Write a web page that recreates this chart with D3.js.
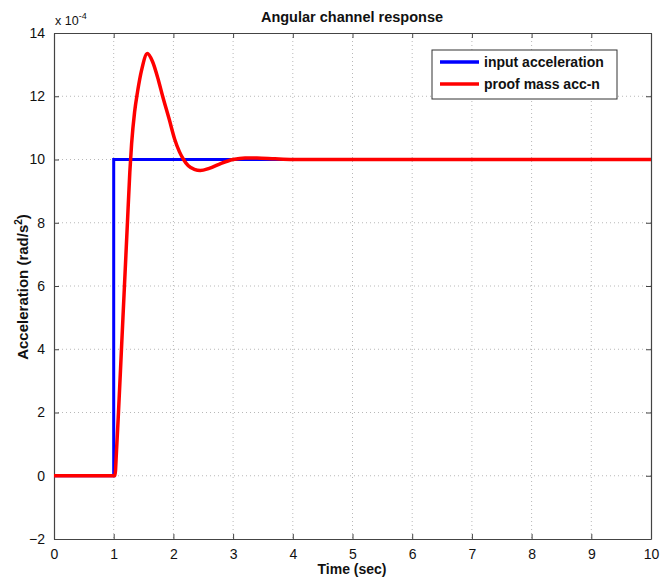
<!DOCTYPE html>
<html><head><meta charset="utf-8">
<script src="https://cdn.jsdelivr.net/npm/d3@7"></script>
<style>body{margin:0;background:#fff}svg{display:block;font-family:"Liberation Sans",Arial,sans-serif}</style>
</head><body><svg id="c" width="660" height="579"></svg>
<script>
const xTicks = [0,1,2,3,4,5,6,7,8,9,10];
const yTicks = [-2,0,2,4,6,8,10,12,14];
const inputTime = [0, 1, 1, 10];
const inputAcc  = [0, 0, 10, 10];
const massTime = [0, 1.0, 1.02, 1.05, 1.08, 1.13, 1.18, 1.23, 1.27, 1.30, 1.35, 1.40, 1.47, 1.563, 1.65, 1.75, 1.82, 1.93, 2.02, 2.1, 2.17, 2.25, 2.35, 2.45, 2.6, 2.8, 3.0, 3.2, 3.4, 3.7, 4.0, 5.0, 10.0];
const massAcc  = [0, 0, 0, 0.9, 2.0, 4.0, 6.0, 8.0, 9.6, 10.5, 11.5, 12.15, 12.85, 13.35, 13.1, 12.5, 12.0, 11.27, 10.65, 10.25, 10.0, 9.8, 9.69, 9.65, 9.72, 9.88, 10.0, 10.05, 10.05, 10.02, 10.0, 10.0, 10.0];
const seriesNames = ["input acceleration", "proof mass acc-n"];
const seriesColors = ["#0000ff", "#ff0000"];

const svg = d3.select("#c");
const L = 54, R = 651, T = 33, B = 539;
const x = d3.scaleLinear().domain([0,10]).range([L,R]);
const y = d3.scaleLinear().domain([-2,14]).range([B,T]);

const g = svg.append("g");
// grid
g.selectAll(".gx").data(xTicks.slice(1,-1)).enter().append("line")
  .attr("x1",d=>x(d)).attr("x2",d=>x(d)).attr("y1",T).attr("y2",B)
  .attr("stroke","#b8b8b8").attr("stroke-width",1).attr("stroke-dasharray","1,3");
g.selectAll(".gy").data(yTicks.slice(1,-1)).enter().append("line")
  .attr("y1",d=>y(d)).attr("y2",d=>y(d)).attr("x1",L).attr("x2",R)
  .attr("stroke","#b8b8b8").attr("stroke-width",1).attr("stroke-dasharray","1,3");

// axes
const xAxis = d3.axisBottom(x).tickValues(xTicks).tickSizeInner(-5).tickSizeOuter(0).tickPadding(10);
const yAxis = d3.axisLeft(y).tickValues(yTicks).tickSizeInner(-5).tickSizeOuter(0).tickPadding(9);
const xa = svg.append("g").attr("transform",`translate(0,${B})`).call(xAxis);
const ya = svg.append("g").attr("transform",`translate(${L},0)`).call(yAxis);
const xt = svg.append("g").attr("transform",`translate(0,${T})`).call(d3.axisTop(x).tickValues(xTicks).tickSizeInner(-5).tickSizeOuter(0).tickFormat(""));
const yr = svg.append("g").attr("transform",`translate(${R},0)`).call(d3.axisRight(y).tickValues(yTicks).tickSizeInner(-5).tickSizeOuter(0).tickFormat(""));
[xa,ya,xt,yr].forEach(a=>{
  a.selectAll("path").attr("stroke","#444").attr("stroke-width",1.2);
  a.selectAll("line").attr("stroke","#444");
  a.selectAll("text").attr("fill","#111").style("font-size","14px").style("font-family","'Liberation Sans',Arial,sans-serif");
});

// lines
const lineGen = d3.line().x(d=>x(d[0])).y(d=>y(d[1]));
const inputData = inputTime.map((t,i)=>[t,inputAcc[i]]);
const massData = massTime.map((t,i)=>[t,massAcc[i]]);
svg.append("path").datum(inputData).attr("d",lineGen).attr("fill","none")
  .attr("stroke",seriesColors[0]).attr("stroke-width",3);
svg.append("path").datum(massData).attr("d",lineGen.curve(d3.curveMonotoneX)).attr("fill","none")
  .attr("stroke",seriesColors[1]).attr("stroke-width",3.5).attr("stroke-linejoin","round");

// exponent label
const ex = svg.append("text").attr("x",55).attr("y",25).attr("fill","#111").style("font-size","12.5px");
ex.append("tspan").text("x 10");
ex.append("tspan").attr("dy",-6).style("font-size","9px").text("-4");

// title
svg.append("text").attr("x",352).attr("y",22).attr("text-anchor","middle")
  .style("font-size","14.5px").style("font-weight","bold").attr("fill","#111").text("Angular channel response");
// x label
svg.append("text").attr("x",352).attr("y",574).attr("text-anchor","middle")
  .style("font-size","14px").style("font-weight","bold").attr("fill","#111").text("Time (sec)");
// y label
const yl = svg.append("text").attr("transform","translate(28,287) rotate(-90)").attr("text-anchor","middle")
  .style("font-size","15px").style("font-weight","bold").attr("fill","#111");
yl.append("tspan").text("Acceleration (rad/s");
yl.append("tspan").attr("dy",-6).style("font-size","10px").text("2");
yl.append("tspan").attr("dy",6).text(")");

// legend
const lg = svg.append("g");
lg.append("rect").attr("x",432).attr("y",50).attr("width",185).attr("height",49)
  .attr("fill","#fff").attr("stroke","#333").attr("stroke-width",1);
seriesNames.forEach((n,i)=>{
  const yy = 62 + i*22;
  lg.append("line").attr("x1",440).attr("x2",479).attr("y1",yy).attr("y2",yy)
    .attr("stroke",seriesColors[i]).attr("stroke-width",3.5);
  lg.append("text").attr("x",484).attr("y",yy+5).style("font-size","14px").style("font-weight","bold")
    .attr("fill","#111").text(n);
});
</script></body></html>
